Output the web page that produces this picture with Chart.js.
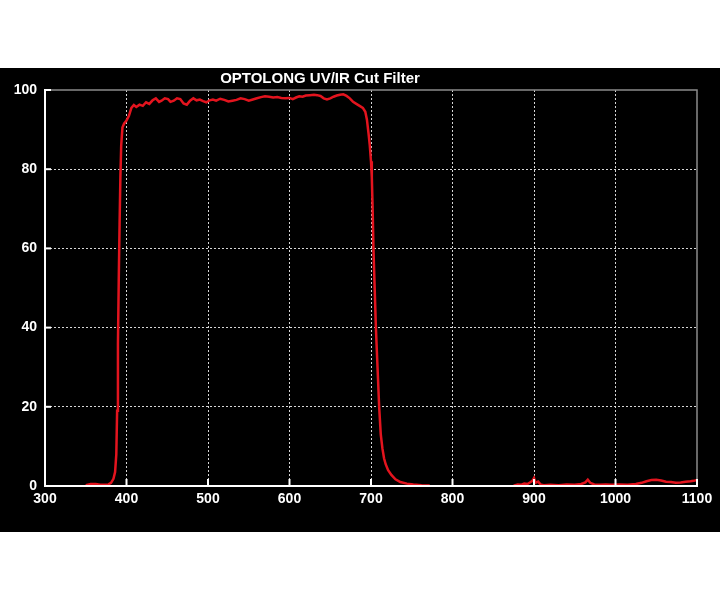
<!DOCTYPE html>
<html>
<head>
<meta charset="utf-8">
<title>OPTOLONG UV/IR Cut Filter</title>
<script src="https://cdn.jsdelivr.net/npm/chart.js@4.4.1/dist/chart.umd.min.js"></script>
<style>
    html, body { margin: 0; padding: 0; background: #ffffff; }
    #wrap { width: 720px; height: 600px; }
</style>
</head>
<body>
<div id="wrap"><canvas id="filterChart" width="720" height="600"></canvas></div>
<script>
// Courbe de transmission (nm / %)
const titleText = 'OPTOLONG UV/IR Cut Filter';

const xTicks = [300, 400, 500, 600, 700, 800, 900, 1000, 1100];
const yTicks = [0, 20, 40, 60, 80, 100];

// bord UV + plateau + coupure IR
const wavelength = [
    350, 356, 362, 368, 374, 378, 381, 384, 386, 387.5, 388.5, 389.5, 390.5, 391.5, 392.5, 393.5,
    395, 397, 400, 403, 406, 409, 412, 416, 420, 424, 428, 432, 436, 440, 443, 447, 451, 454, 458,
    462, 466, 470, 474, 478, 482, 486, 490, 494, 498, 502, 506, 510, 515, 520, 525, 530, 535, 540,
    545, 550, 555, 560, 565, 570, 575, 580, 585, 590, 595, 600, 604, 608, 612, 616, 620, 625, 630,
    634, 638, 642, 646, 650, 654, 658, 662, 666, 670, 674, 678, 682, 686, 690, 693, 695, 697, 698.5,
    700, 701, 702, 703, 704.5, 706, 708, 710, 712, 714, 716, 718, 721, 725, 730, 736, 744, 752, 762, 772,
    820,
    875, 880, 884, 888, 892, 895, 898, 900, 902, 905, 908, 912, 920, 930, 940, 950, 958, 963, 966,
    969, 974, 980, 988, 995, 1005, 1015, 1025, 1032, 1038, 1044, 1050, 1056, 1062, 1068, 1074, 1080,
    1086, 1092, 1096, 1100
];
const transmission = [
    0.2, 0.5, 0.5, 0.3, 0.3, 0.4, 0.8, 1.8, 3.5, 8, 19, 36, 52, 66, 78, 86,
    90.5, 91.5, 92.3, 93.5, 95.5, 96.2, 95.7, 96.3, 96.0, 96.9, 96.5, 97.4, 97.9, 97.0, 97.3, 97.9, 97.7, 97.0, 97.3,
    97.9, 97.7, 96.6, 96.3, 97.3, 97.9, 97.4, 97.6, 97.2, 96.9, 97.4, 97.6, 97.3, 97.8, 97.5, 97.1, 97.3, 97.5, 97.9,
    97.7, 97.3, 97.6, 97.9, 98.2, 98.4, 98.3, 98.1, 98.2, 98.0, 97.9, 98.0, 97.7, 98.1, 98.4, 98.3, 98.6, 98.7, 98.8,
    98.7, 98.5, 97.9, 97.6, 97.9, 98.3, 98.6, 98.8, 98.9, 98.5, 97.9, 97.0, 96.5, 96.0, 95.5, 94.5, 92.5, 89, 86,
    82, 78, 70, 60, 50, 40, 30, 20, 13, 9.5, 7, 5.5, 4, 2.8, 1.7, 1, 0.6, 0.4, 0.2, 0.1,
    null,
    0.1, 0.4, 0.3, 0.6, 0.5, 0.9, 1.3, 2.0, 0.8, 1.1, 0.4, 0.2, 0.3, 0.2, 0.4, 0.3, 0.5, 0.9, 1.6,
    0.8, 0.4, 0.3, 0.4, 0.3, 0.4, 0.3, 0.5, 0.8, 1.2, 1.5, 1.6, 1.4, 1.1, 1.0, 0.8, 0.9,
    1.1, 1.2, 1.3, 1.5
];

const labelFont = { family: "'Liberation Sans', Arial, sans-serif", size: 14, weight: 'bold' };

// fond noir, cadre, petites graduations et titre
const framePlugin = {
    id: 'frame',
    beforeDraw: function(chart) {
        const ctx = chart.ctx;
        ctx.save();
        ctx.fillStyle = '#000000';
        ctx.fillRect(0, 68, chart.width, 464);
        ctx.restore();
    },
    afterDraw: function(chart) {
        const ctx = chart.ctx;
        const a = chart.chartArea;
        const xs = chart.scales.x;
        const ys = chart.scales.y;
        ctx.save();
        // cadre haut / droite gris
        ctx.strokeStyle = '#8a8a8a';
        ctx.lineWidth = 1.5;
        ctx.beginPath();
        ctx.moveTo(a.left, a.top);
        ctx.lineTo(a.right, a.top);
        ctx.lineTo(a.right, a.bottom);
        ctx.stroke();
        // axes gauche / bas blancs
        ctx.strokeStyle = '#ffffff';
        ctx.lineWidth = 2;
        ctx.beginPath();
        ctx.moveTo(a.left, a.top);
        ctx.lineTo(a.left, a.bottom);
        ctx.lineTo(a.right, a.bottom);
        ctx.stroke();
        // graduations vers l'interieur
        yTicks.forEach(function(v) {
            if (v === 0) return;
            const py = ys.getPixelForValue(v);
            ctx.beginPath();
            ctx.moveTo(a.left, py);
            ctx.lineTo(a.left + 6, py);
            ctx.stroke();
        });
        xTicks.forEach(function(v) {
            if (v === xTicks[0]) return;
            const px = xs.getPixelForValue(v);
            ctx.beginPath();
            ctx.moveTo(px, a.bottom);
            ctx.lineTo(px, a.bottom - 7);
            ctx.stroke();
        });
        // titre
        ctx.fillStyle = '#ffffff';
        ctx.font = "bold 15px 'Liberation Sans', Arial, sans-serif";
        ctx.textAlign = 'center';
        ctx.textBaseline = 'middle';
        ctx.fillText(titleText, 320, 79);
        ctx.restore();
    }
};

function edgeGrid(ticksList) {
    return function(context) {
        const v = context.tick ? context.tick.value : null;
        if (v === ticksList[0] || v === ticksList[ticksList.length - 1]) {
            return 'rgba(0,0,0,0)';
        }
        return 'rgba(225,225,225,0.95)';
    };
}

const points = wavelength.map(function(w, i) {
    return { x: w, y: transmission[i] };
});

new Chart(document.getElementById('filterChart').getContext('2d'), {
    type: 'line',
    data: {
        datasets: [{
            label: 'Transmission',
            data: points,
            borderColor: '#e3141e',
            borderWidth: 2.5,
            pointRadius: 0,
            tension: 0,
            fill: false,
            spanGaps: false
        }]
    },
    options: {
        responsive: false,
        animation: false,
        layout: {
            padding: { top: 90, right: 23, bottom: 68, left: 0 }
        },
        plugins: {
            legend: { display: false },
            title: { display: false },
            tooltip: { enabled: false }
        },
        scales: {
            x: {
                type: 'linear',
                min: 300,
                max: 1100,
                afterFit: function(scale) { scale.height = 46; },
                afterBuildTicks: function(scale) {
                    scale.ticks = xTicks.map(function(v) { return { value: v }; });
                },
                ticks: {
                    color: '#ffffff',
                    font: labelFont,
                    padding: 5,
                    maxRotation: 0,
                    autoSkip: false,
                    callback: function(value) { return String(value); }
                },
                grid: {
                    color: edgeGrid(xTicks),
                    lineWidth: 1,
                    drawTicks: false
                },
                border: { display: true, color: '#ffffff', width: 2, dash: [2, 2] }
            },
            y: {
                min: 0,
                max: 100,
                afterFit: function(scale) { scale.width = 45; },
                afterBuildTicks: function(scale) {
                    scale.ticks = yTicks.map(function(v) { return { value: v }; });
                },
                ticks: {
                    color: '#ffffff',
                    font: labelFont,
                    padding: 8,
                    callback: function(value) { return String(value); }
                },
                grid: {
                    color: edgeGrid(yTicks),
                    lineWidth: 1,
                    drawTicks: false
                },
                border: { display: true, color: '#ffffff', width: 2, dash: [2, 2] }
            }
        }
    },
    plugins: [framePlugin]
});
</script>
</body>
</html>
